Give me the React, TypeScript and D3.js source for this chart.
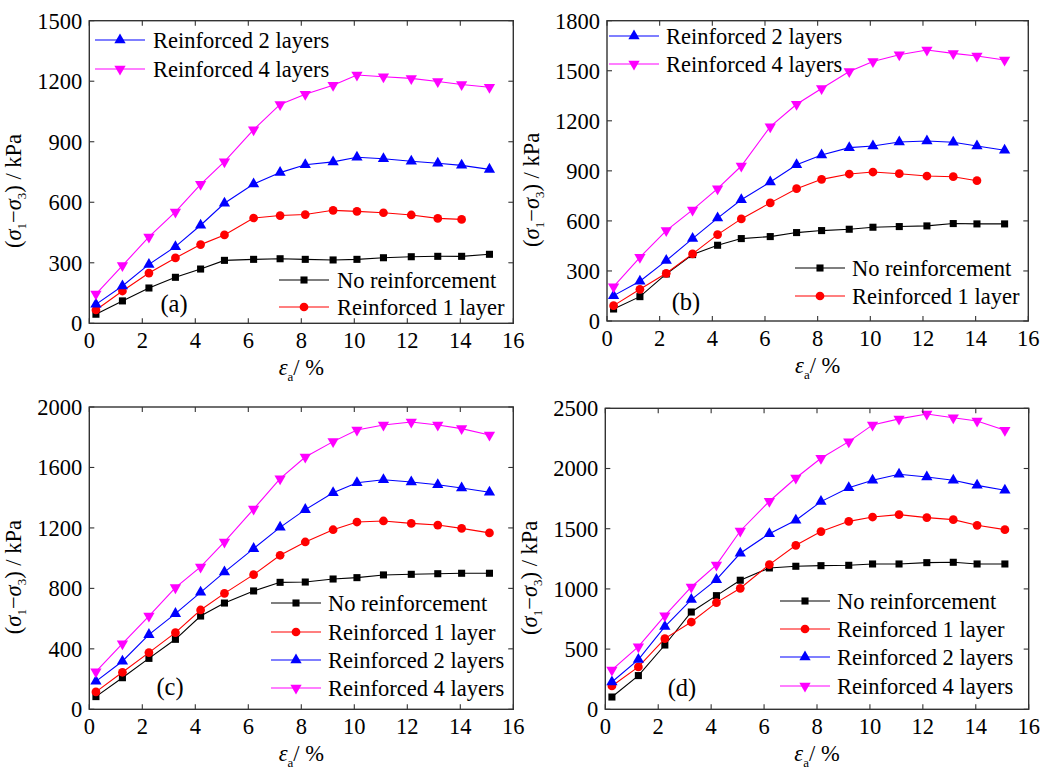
import React from "react";
import * as d3 from "d3";

// Axial strain (%) at which each reading was taken
const strain = [0.25, 1.25, 2.25, 3.25, 4.2, 5.1, 6.2, 7.2, 8.15, 9.2, 10.1, 11.1, 12.15, 13.15, 14.05, 15.1];

// Deviator stress (kPa), panel (a)
const aNone = [45, 111, 175, 228, 269, 312, 317, 320, 317, 314, 317, 325, 330, 332, 332, 342];
const aOne = [66, 160, 249, 324, 390, 438, 522, 534, 539, 560, 555, 548, 537, 520, 515];
const aTwo = [94, 185, 292, 380, 486, 595, 690, 747, 786, 800, 823, 816, 803, 793, 783, 763];
const aFour = [145, 286, 428, 552, 689, 801, 960, 1085, 1135, 1180, 1231, 1222, 1214, 1199, 1184, 1170];

// Panel (b)
const bNone = [72, 146, 282, 398, 454, 494, 506, 530, 542, 550, 562, 566, 570, 584, 582, 582];
const bOne = [92, 190, 286, 402, 518, 612, 708, 793, 849, 881, 893, 883, 869, 865, 841];
const bTwo = [152, 238, 362, 494, 617, 727, 833, 937, 995, 1039, 1049, 1073, 1079, 1071, 1049, 1023];
const bFour = [206, 382, 542, 666, 793, 929, 1165, 1299, 1394, 1496, 1556, 1596, 1624, 1604, 1588, 1564];

// Panel (c)
const cNone = [84, 209, 337, 463, 617, 703, 783, 840, 842, 862, 871, 889, 893, 897, 900, 900];
const cOne = [115, 245, 375, 507, 657, 767, 891, 1019, 1107, 1188, 1239, 1246, 1230, 1219, 1197, 1167];
const cTwo = [185, 318, 494, 633, 774, 908, 1063, 1204, 1321, 1433, 1499, 1519, 1504, 1486, 1464, 1436];
const cFour = [249, 434, 617, 805, 942, 1107, 1325, 1526, 1669, 1771, 1848, 1881, 1901, 1881, 1857, 1815];

// Panel (d)
const dNone = [102, 280, 534, 808, 944, 1072, 1174, 1188, 1193, 1196, 1207, 1207, 1218, 1221, 1207, 1207];
const dOne = [194, 352, 587, 725, 886, 1005, 1202, 1362, 1476, 1561, 1597, 1617, 1592, 1575, 1528, 1492];
const dTwo = [227, 413, 687, 911, 1077, 1296, 1459, 1570, 1725, 1841, 1902, 1952, 1930, 1902, 1860, 1819];
const dFour = [327, 520, 778, 1016, 1199, 1481, 1728, 1921, 2085, 2223, 2362, 2412, 2453, 2422, 2395, 2317];

const seriesNames = ["No reinforcement", "Reinforced 1 layer", "Reinforced 2 layers", "Reinforced 4 layers"];
const seriesColors = ["#000000", "#ff0000", "#0000ff", "#ff00ff"];
const xTicks = [0, 2, 4, 6, 8, 10, 12, 14, 16];

const FS = 22.5;
const TEXT_STYLE = { fontFamily: "Liberation Serif", fontSize: FS };

type Box = { left: number; right: number; top: number; bottom: number };
type LegendSpec = { series: number[]; lineX: number; textX: number; ys: number[] };

type PanelSpec = {
  label: string;
  box: Box;
  yMax: number;
  yStep: number;
  data: number[][];
  legends: LegendSpec[];
  labelPos: [number, number];
};

const panels: PanelSpec[] = [
  {
    label: "(a)",
    box: { left: 89.3, right: 513.3, top: 20.7, bottom: 323.3 },
    yMax: 1500,
    yStep: 300,
    data: [aNone, aOne, aTwo, aFour],
    legends: [
      { series: [2, 3], lineX: 95, textX: 153, ys: [40, 69] },
      { series: [0, 1], lineX: 279, textX: 337, ys: [280, 307] },
    ],
    labelPos: [174, 312],
  },
  {
    label: "(b)",
    box: { left: 607, right: 1028.3, top: 20.7, bottom: 321 },
    yMax: 1800,
    yStep: 300,
    data: [bNone, bOne, bTwo, bFour],
    legends: [
      { series: [2, 3], lineX: 609, textX: 666, ys: [36, 64] },
      { series: [0, 1], lineX: 795, textX: 852, ys: [268, 296] },
    ],
    labelPos: [686, 310],
  },
  {
    label: "(c)",
    box: { left: 89.3, right: 513.3, top: 407, bottom: 709.3 },
    yMax: 2000,
    yStep: 400,
    data: [cNone, cOne, cTwo, cFour],
    legends: [{ series: [0, 1, 2, 3], lineX: 271, textX: 328, ys: [603, 632, 660, 688] }],
    labelPos: [170, 695],
  },
  {
    label: "(d)",
    box: { left: 605.3, right: 1028.7, top: 408.3, bottom: 709.3 },
    yMax: 2500,
    yStep: 500,
    data: [dNone, dOne, dTwo, dFour],
    legends: [{ series: [0, 1, 2, 3], lineX: 780, textX: 837, ys: [601, 629, 657, 686] }],
    labelPos: [682, 696],
  },
];

const symbolFor = (i: number) => {
  if (i === 0) return d3.symbol().type(d3.symbolSquare).size(50)();
  if (i === 1) return d3.symbol().type(d3.symbolCircle).size(60)();
  return d3.symbol().type(d3.symbolTriangle).size(55)();
};

const Marker = ({ i, x, y }: { i: number; x: number; y: number }) => (
  <path
    d={symbolFor(i) || ""}
    fill={seriesColors[i]}
    transform={`translate(${x},${y})${i === 3 ? " rotate(180)" : ""}`}
  />
);

const Panel = ({ p }: { p: PanelSpec }) => {
  const { box } = p;
  const x = d3.scaleLinear().domain([0, 16]).range([box.left, box.right]);
  const y = d3.scaleLinear().domain([0, p.yMax]).range([box.bottom, box.top]);
  const yTicks = d3.range(0, p.yMax + 1, p.yStep);
  const line = d3
    .line<[number, number]>()
    .x((d) => x(d[0]))
    .y((d) => y(d[1]));
  const tickLen = 5;
  const axisColor = "#333";
  const midY = (box.top + box.bottom) / 2 + 19;
  const titleX = box.left - 68;
  const midX = (box.left + box.right) / 2;

  return (
    <g>
      {/* series lines and markers */}
      {p.data.map((vals, si) => {
        const pts: [number, number][] = vals.map((v, k) => [strain[k], v]);
        return (
          <g key={si}>
            <path d={line(pts) || ""} fill="none" stroke={seriesColors[si]} strokeWidth={1.1} />
            {pts.map((d, k) => (
              <Marker key={k} i={si} x={x(d[0])} y={y(d[1])} />
            ))}
          </g>
        );
      })}

      {/* frame and inward ticks on all four sides */}
      <rect
        x={box.left}
        y={box.top}
        width={box.right - box.left}
        height={box.bottom - box.top}
        fill="none"
        stroke={axisColor}
        strokeWidth={1.4}
      />
      {xTicks.map((t) => (
        <g key={"x" + t}>
          <line x1={x(t)} x2={x(t)} y1={box.bottom} y2={box.bottom - tickLen} stroke={axisColor} strokeWidth={1.1} />
          <line x1={x(t)} x2={x(t)} y1={box.top} y2={box.top + tickLen} stroke={axisColor} strokeWidth={1.1} />
          <text x={x(t)} y={box.bottom + 25} textAnchor="middle" style={TEXT_STYLE} fill="#000">
            {t}
          </text>
        </g>
      ))}
      {yTicks.map((t) => (
        <g key={"y" + t}>
          <line x1={box.left} x2={box.left + tickLen} y1={y(t)} y2={y(t)} stroke={axisColor} strokeWidth={1.1} />
          <line x1={box.right} x2={box.right - tickLen} y1={y(t)} y2={y(t)} stroke={axisColor} strokeWidth={1.1} />
          <text x={box.left - 7} y={y(t)} dy="0.35em" textAnchor="end" style={TEXT_STYLE} fill="#000">
            {t}
          </text>
        </g>
      ))}

      {/* axis titles */}
      <text
        transform={`translate(${titleX},${midY}) rotate(-90)`}
        textAnchor="middle"
        style={TEXT_STYLE}
        fill="#000"
      >
        <tspan>(</tspan>
        <tspan style={{ fontStyle: "italic" }}>σ</tspan>
        <tspan style={{ fontSize: 13 }} dy={5}>1</tspan>
        <tspan dy={-5}>−</tspan>
        <tspan style={{ fontStyle: "italic" }}>σ</tspan>
        <tspan style={{ fontSize: 13 }} dy={5}>3</tspan>
        <tspan dy={-5}>) / kPa</tspan>
      </text>
      <text x={midX} y={box.bottom + 52} textAnchor="middle" style={TEXT_STYLE} fill="#000">
        <tspan style={{ fontStyle: "italic" }}>ε</tspan>
        <tspan style={{ fontSize: 13 }} dy={6}>a</tspan>
        <tspan dy={-6}>/ %</tspan>
      </text>

      {/* legends */}
      {p.legends.map((lg, li) => (
        <g key={li}>
          {lg.series.map((si, r) => (
            <g key={si}>
              <line
                x1={lg.lineX}
                x2={lg.lineX + 50}
                y1={lg.ys[r]}
                y2={lg.ys[r]}
                stroke={seriesColors[si]}
                strokeWidth={1.1}
              />
              <Marker i={si} x={lg.lineX + 25} y={lg.ys[r]} />
              <text x={lg.textX} y={lg.ys[r]} dy="0.35em" style={TEXT_STYLE} fill="#000">
                {seriesNames[si]}
              </text>
            </g>
          ))}
        </g>
      ))}

      {/* panel label */}
      <text
        x={p.labelPos[0]}
        y={p.labelPos[1]}
        textAnchor="middle"
        style={{ fontFamily: "Liberation Serif", fontSize: FS + 2 }}
        fill="#000"
      >
        {p.label}
      </text>
    </g>
  );
};

export default function App() {
  return (
    <svg
      width={1043}
      height={771}
      style={{ position: "absolute", left: 0, top: 0, background: "#fff", fontFamily: "Liberation Serif" }}
    >
      <rect width={1043} height={771} fill="#fff" />
      {panels.map((p) => (
        <Panel key={p.label} p={p} />
      ))}
    </svg>
  );
}
